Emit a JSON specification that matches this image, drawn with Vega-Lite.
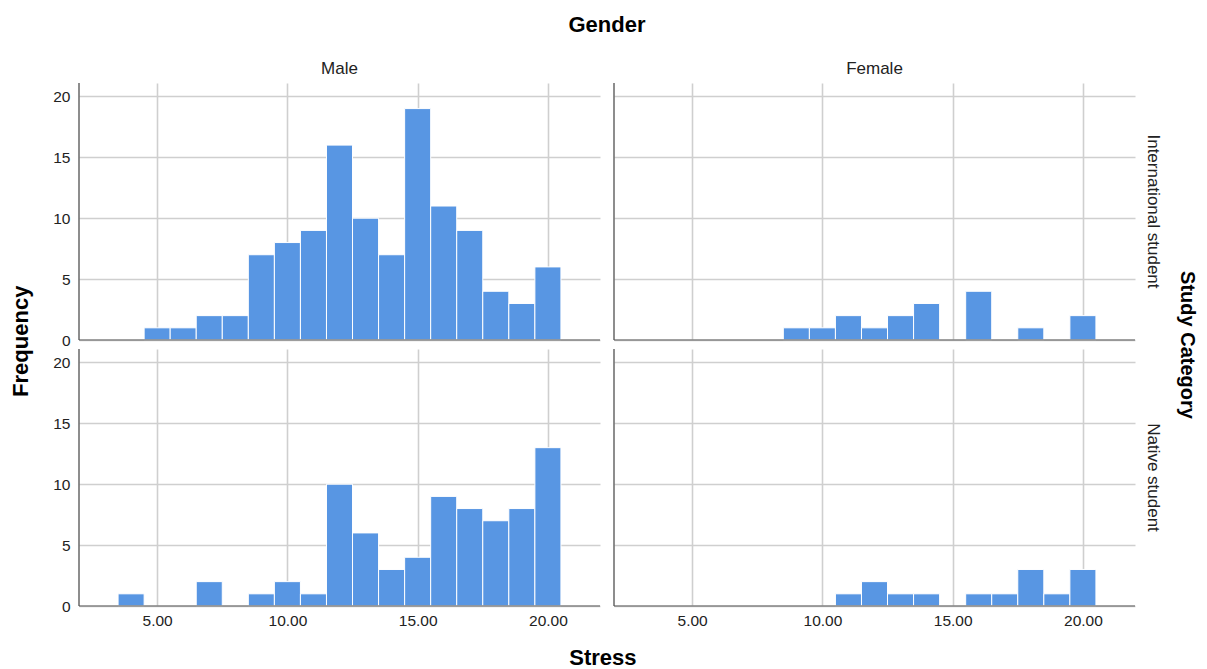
{
  "$schema": "https://vega.github.io/schema/vega-lite/v6.json",
  "background": "white",
  "padding": {"left": 9, "top": 14, "right": 4, "bottom": 0},
  "config": {
    "font": "Liberation Sans",
    "view": {"stroke": null},
    "title": {"fontSize": 22, "fontWeight": "bold", "color": "#000000", "font": "Liberation Sans"}
  },
  "title": {"text": "Frequency", "orient": "left", "anchor": "middle", "offset": 20, "fontSize": 22, "fontWeight": "bold", "color": "#000000"},
  "vconcat": [
    {
      "data": {
        "values": [
          {"Gender": "Male", "Category": "International student", "bin_start": 4.5, "bin_end": 5.5, "Frequency": 1},
          {"Gender": "Male", "Category": "International student", "bin_start": 5.5, "bin_end": 6.5, "Frequency": 1},
          {"Gender": "Male", "Category": "International student", "bin_start": 6.5, "bin_end": 7.5, "Frequency": 2},
          {"Gender": "Male", "Category": "International student", "bin_start": 7.5, "bin_end": 8.5, "Frequency": 2},
          {"Gender": "Male", "Category": "International student", "bin_start": 8.5, "bin_end": 9.5, "Frequency": 7},
          {"Gender": "Male", "Category": "International student", "bin_start": 9.5, "bin_end": 10.5, "Frequency": 8},
          {"Gender": "Male", "Category": "International student", "bin_start": 10.5, "bin_end": 11.5, "Frequency": 9},
          {"Gender": "Male", "Category": "International student", "bin_start": 11.5, "bin_end": 12.5, "Frequency": 16},
          {"Gender": "Male", "Category": "International student", "bin_start": 12.5, "bin_end": 13.5, "Frequency": 10},
          {"Gender": "Male", "Category": "International student", "bin_start": 13.5, "bin_end": 14.5, "Frequency": 7},
          {"Gender": "Male", "Category": "International student", "bin_start": 14.5, "bin_end": 15.5, "Frequency": 19},
          {"Gender": "Male", "Category": "International student", "bin_start": 15.5, "bin_end": 16.5, "Frequency": 11},
          {"Gender": "Male", "Category": "International student", "bin_start": 16.5, "bin_end": 17.5, "Frequency": 9},
          {"Gender": "Male", "Category": "International student", "bin_start": 17.5, "bin_end": 18.5, "Frequency": 4},
          {"Gender": "Male", "Category": "International student", "bin_start": 18.5, "bin_end": 19.5, "Frequency": 3},
          {"Gender": "Male", "Category": "International student", "bin_start": 19.5, "bin_end": 20.5, "Frequency": 6},
          {"Gender": "Female", "Category": "International student", "bin_start": 8.5, "bin_end": 9.5, "Frequency": 1},
          {"Gender": "Female", "Category": "International student", "bin_start": 9.5, "bin_end": 10.5, "Frequency": 1},
          {"Gender": "Female", "Category": "International student", "bin_start": 10.5, "bin_end": 11.5, "Frequency": 2},
          {"Gender": "Female", "Category": "International student", "bin_start": 11.5, "bin_end": 12.5, "Frequency": 1},
          {"Gender": "Female", "Category": "International student", "bin_start": 12.5, "bin_end": 13.5, "Frequency": 2},
          {"Gender": "Female", "Category": "International student", "bin_start": 13.5, "bin_end": 14.5, "Frequency": 3},
          {"Gender": "Female", "Category": "International student", "bin_start": 15.5, "bin_end": 16.5, "Frequency": 4},
          {"Gender": "Female", "Category": "International student", "bin_start": 17.5, "bin_end": 18.5, "Frequency": 1},
          {"Gender": "Female", "Category": "International student", "bin_start": 19.5, "bin_end": 20.5, "Frequency": 2},
          {"Gender": "Male", "Category": "Native student", "bin_start": 3.5, "bin_end": 4.5, "Frequency": 1},
          {"Gender": "Male", "Category": "Native student", "bin_start": 6.5, "bin_end": 7.5, "Frequency": 2},
          {"Gender": "Male", "Category": "Native student", "bin_start": 8.5, "bin_end": 9.5, "Frequency": 1},
          {"Gender": "Male", "Category": "Native student", "bin_start": 9.5, "bin_end": 10.5, "Frequency": 2},
          {"Gender": "Male", "Category": "Native student", "bin_start": 10.5, "bin_end": 11.5, "Frequency": 1},
          {"Gender": "Male", "Category": "Native student", "bin_start": 11.5, "bin_end": 12.5, "Frequency": 10},
          {"Gender": "Male", "Category": "Native student", "bin_start": 12.5, "bin_end": 13.5, "Frequency": 6},
          {"Gender": "Male", "Category": "Native student", "bin_start": 13.5, "bin_end": 14.5, "Frequency": 3},
          {"Gender": "Male", "Category": "Native student", "bin_start": 14.5, "bin_end": 15.5, "Frequency": 4},
          {"Gender": "Male", "Category": "Native student", "bin_start": 15.5, "bin_end": 16.5, "Frequency": 9},
          {"Gender": "Male", "Category": "Native student", "bin_start": 16.5, "bin_end": 17.5, "Frequency": 8},
          {"Gender": "Male", "Category": "Native student", "bin_start": 17.5, "bin_end": 18.5, "Frequency": 7},
          {"Gender": "Male", "Category": "Native student", "bin_start": 18.5, "bin_end": 19.5, "Frequency": 8},
          {"Gender": "Male", "Category": "Native student", "bin_start": 19.5, "bin_end": 20.5, "Frequency": 13},
          {"Gender": "Female", "Category": "Native student", "bin_start": 10.5, "bin_end": 11.5, "Frequency": 1},
          {"Gender": "Female", "Category": "Native student", "bin_start": 11.5, "bin_end": 12.5, "Frequency": 2},
          {"Gender": "Female", "Category": "Native student", "bin_start": 12.5, "bin_end": 13.5, "Frequency": 1},
          {"Gender": "Female", "Category": "Native student", "bin_start": 13.5, "bin_end": 14.5, "Frequency": 1},
          {"Gender": "Female", "Category": "Native student", "bin_start": 15.5, "bin_end": 16.5, "Frequency": 1},
          {"Gender": "Female", "Category": "Native student", "bin_start": 16.5, "bin_end": 17.5, "Frequency": 1},
          {"Gender": "Female", "Category": "Native student", "bin_start": 17.5, "bin_end": 18.5, "Frequency": 3},
          {"Gender": "Female", "Category": "Native student", "bin_start": 18.5, "bin_end": 19.5, "Frequency": 1},
          {"Gender": "Female", "Category": "Native student", "bin_start": 19.5, "bin_end": 20.5, "Frequency": 3}
        ]
      },
      "title": {"text": "Stress", "orient": "bottom", "anchor": "middle", "offset": 19, "dx": -22, "fontSize": 22, "fontWeight": "bold", "color": "#000000"},
      "facet": {
        "column": {
          "field": "Gender", "type": "nominal", "sort": ["Male", "Female"],
          "header": {"title": "Gender", "titleFontSize": 22, "titleFontWeight": "bold", "titleColor": "#000000", "titlePadding": 13, "labelFontSize": 17, "labelColor": "#222222", "labelPadding": 4}
        },
        "row": {
          "field": "Category", "type": "nominal", "sort": ["International student", "Native student"],
          "header": {"title": "Study Category", "titleOrient": "right", "labelOrient": "right", "labelAngle": 90, "titleAngle": 90, "titleFontSize": 20, "titleFontWeight": "bold", "titleColor": "#000000", "titlePadding": 5, "labelFontSize": 17, "labelColor": "#222222", "labelPadding": 8}
        }
      },
      "spacing": {"row": 7, "column": 12},
      "spec": {
        "width": 521,
        "height": 257,
        "layer": [
          {
            "mark": {"type": "bar", "color": "#5896e3", "stroke": "#ffffff", "strokeWidth": 1},
            "encoding": {
              "x": {"field": "bin_start", "type": "quantitative", "scale": {"domain": [2, 22], "nice": false, "zero": false},
                "axis": {"values": [5, 10, 15, 20], "format": ".2f", "title": null, "domain": false, "ticks": false, "labelPadding": 6, "labelFontSize": 15.5, "labelColor": "#222222", "labelFlush": false, "grid": true, "gridColor": "#cfcfcf", "gridWidth": 1.6}},
              "x2": {"field": "bin_end"},
              "y": {"field": "Frequency", "type": "quantitative", "scale": {"domain": [0, 21.1], "nice": false},
                "axis": {"values": [0, 5, 10, 15, 20], "title": null, "domain": false, "ticks": false, "labelPadding": 8, "labelFontSize": 15.5, "labelColor": "#222222", "labelFlush": false, "grid": true, "gridColor": "#cfcfcf", "gridWidth": 1.6}},
              "y2": {"datum": 0}
            }
          },
          {
            "data": {"values": [{"base": 0}]},
            "mark": {"type": "rule", "color": "#858585", "strokeWidth": 1.5},
            "encoding": {"y": {"field": "base", "type": "quantitative"}}
          },
          {
            "data": {"values": [{"left": 2}]},
            "mark": {"type": "rule", "color": "#505050", "strokeWidth": 1.3},
            "encoding": {"x": {"field": "left", "type": "quantitative"}}
          }
        ]
      }
    }
  ]
}
